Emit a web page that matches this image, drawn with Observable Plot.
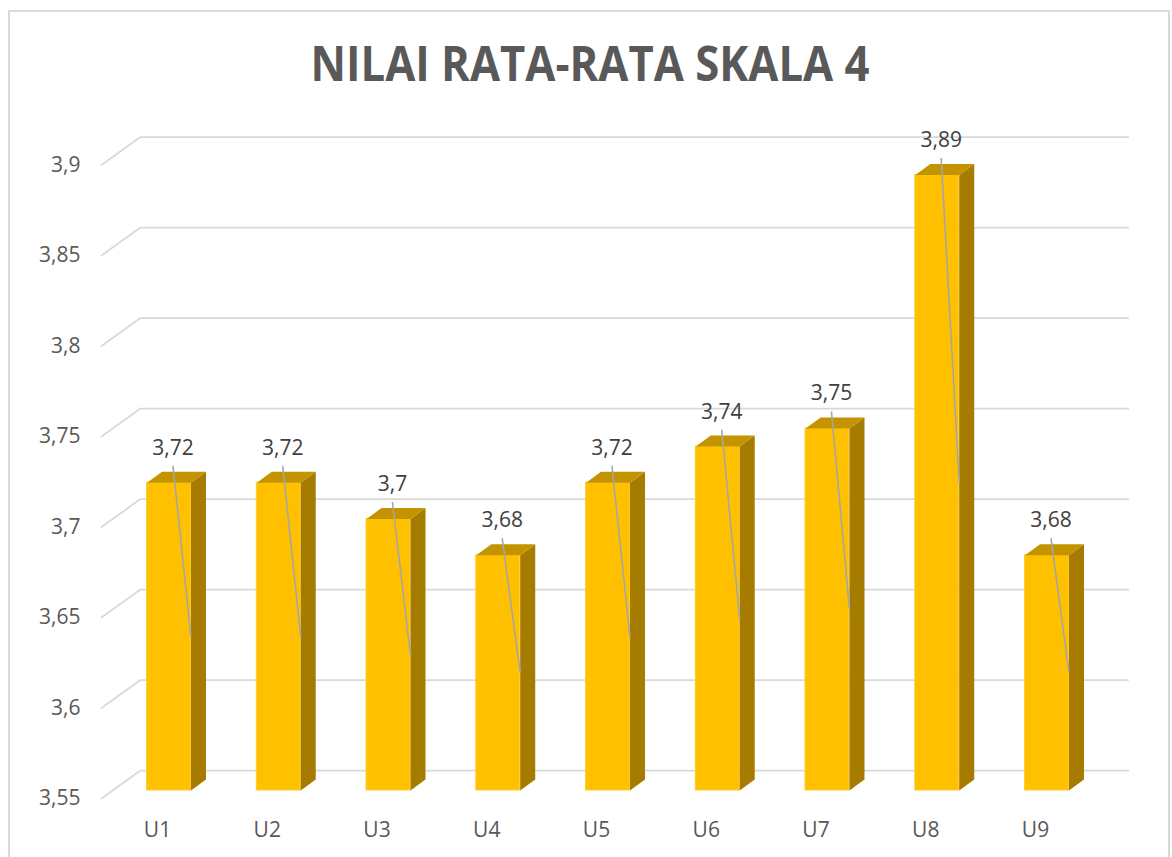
<!DOCTYPE html>
<html>
<head>
<meta charset="utf-8">
<script src="https://cdn.jsdelivr.net/npm/d3@7"></script>
<script src="https://cdn.jsdelivr.net/npm/@observablehq/plot@0.6"></script>
<style>
  html, body { margin: 0; padding: 0; background: #fff; }
  #page { position: relative; width: 1172px; height: 857px; overflow: hidden; }
  #title { position: relative; height: 110px; }
  #title span { position: absolute; left: 590px; top: 38px; white-space: nowrap;
    font-family: "Open Sans", sans-serif; font-weight: 700; font-size: 49px; line-height: 49px;
    color: #595959; transform-origin: 0 0; display: inline-block; }
  #frame { position: absolute; left: 8px; top: 10px; width: 1162px; height: 870px;
    border: 2px solid #D9D9D9; box-sizing: border-box; pointer-events: none; z-index: 5; }
</style>
</head>
<body>
<div id="page">
  <div id="title"><span>NILAI RATA-RATA SKALA 4</span></div>
  <div id="chart"></div>
  <div id="frame"></div>
</div>
<script>
// ---- data ----
const categories = ["U1", "U2", "U3", "U4", "U5", "U6", "U7", "U8", "U9"];
const values = [3.72, 3.72, 3.70, 3.68, 3.72, 3.74, 3.75, 3.89, 3.68];
const yTicks = [3.55, 3.6, 3.65, 3.7, 3.75, 3.8, 3.85, 3.9];
const baseValue = 3.55;

// ---- geometry constants (index / value units) ----
const half = 0.2;          // half width of bar front face
const depthX = 0.137;      // 3D depth horizontal
const depthY = 0.0061;     // 3D depth vertical
const gridBack = 0.011;    // back wall offset
const gridFront = -0.0044; // front edge offset
const fmt = d => String(d).replace(".", ",");

const bars = categories.map((c, i) => ({c, i, v: values[i]}));

const topFaces = bars.flatMap(b => [
  {c: b.c, x: b.i - half, y: b.v},
  {c: b.c, x: b.i + half, y: b.v},
  {c: b.c, x: b.i + half + depthX, y: b.v + depthY},
  {c: b.c, x: b.i - half + depthX, y: b.v + depthY}
]);
const sideFaces = bars.flatMap(b => [
  {c: b.c, x: b.i + half, y: baseValue},
  {c: b.c, x: b.i + half, y: b.v},
  {c: b.c, x: b.i + half + depthX, y: b.v + depthY},
  {c: b.c, x: b.i + half + depthX, y: baseValue + depthY}
]);
const grid = yTicks.flatMap(t => [
  {t, x: -0.615, y: t + gridFront},
  {t, x: -0.26, y: t + gridBack},
  {t, x: 8.74, y: t + gridBack}
]);

const offset = 110;
const chart = Plot.plot({
  width: 1172,
  height: 747,
  marginLeft: 88,
  marginBottom: 45,
  marginTop: 20,
  style: {fontFamily: "Open Sans, sans-serif", fontSize: "21px", background: "transparent", overflow: "visible"},
  x: {type: "linear", domain: [0, 8], range: [168.5, 1046.5]},
  y: {type: "linear", domain: [3.55, 3.9], range: [790 - offset, 156.5 - offset]},
  marks: [
    Plot.line(grid, {x: "x", y: "y", z: "t", stroke: "#D9D9D9", strokeWidth: 1.8, curve: "linear"}),
    Plot.axisY({ticks: yTicks, tickFormat: fmt, tickSize: 0, tickPadding: 8, dy: 8, color: "#595959", fontSize: 21, label: null}),
    Plot.axisX({ticks: d3.range(categories.length), tickFormat: i => categories[i], tickSize: 0, tickPadding: 10, dx: -11.5, color: "#595959", fontSize: 21, label: null}),
    Plot.rect(bars, {x1: d => d.i - half, x2: d => d.i + half, y1: baseValue, y2: "v", fill: "#FFC000", stroke: "#FFCB2E", strokeWidth: 1}),
    Plot.line(sideFaces, {x: "x", y: "y", z: "c", fill: "#A67C00", stroke: "none"}),
    Plot.line(topFaces, {x: "x", y: "y", z: "c", fill: "#C39300", stroke: "none"}),
    Plot.link(bars, {x1: d => d.i + 0.036, y1: d => d.v + 0.0094, x2: d => d.i + half, y2: d => (baseValue + d.v) / 2, stroke: "#A6A6A6", strokeWidth: 1.6}),
    Plot.text(bars, {x: d => d.i + 0.036, y: d => d.v + 0.0192, text: d => fmt(d.v), fill: "#404040", fontSize: 21})
  ]
});
document.getElementById("chart").appendChild(chart);

// fit title to reference width
const span = document.querySelector("#title span");
const w = span.getBoundingClientRect().width;
const s = 559 / w;
span.style.transform = `translateX(${-w * s / 2}px) scaleX(${s})`;
</script>
</body>
</html>
